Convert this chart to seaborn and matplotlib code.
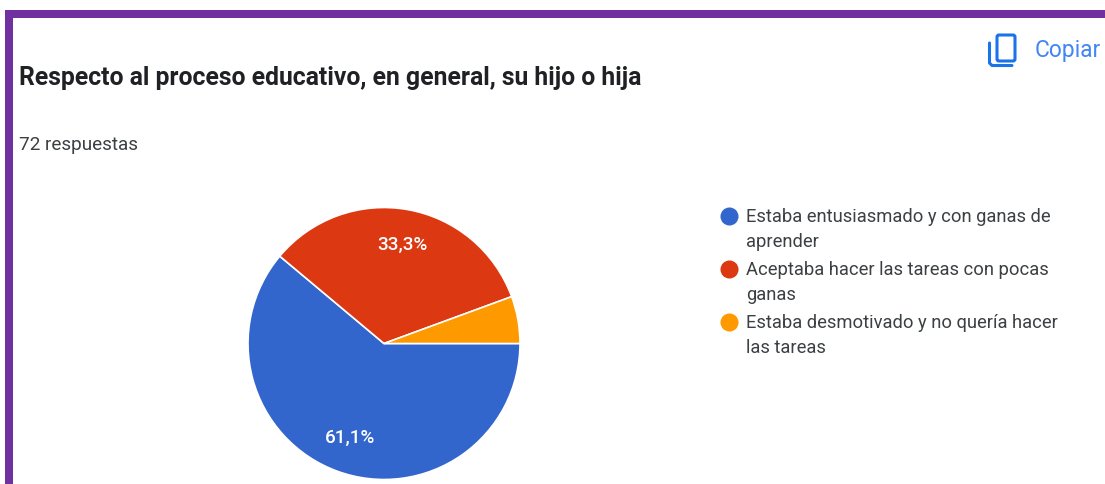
import matplotlib
matplotlib.use("Agg")
import matplotlib.pyplot as plt
from matplotlib.patches import Rectangle, FancyBboxPatch
import seaborn as sns

title = "Respecto al proceso educativo, en general, su hijo o hija"
subtitle = "72 respuestas"
copy_label = "Copiar"
categories = ["Estaba entusiasmado y con ganas de\naprender",
              "Aceptaba hacer las tareas con pocas\nganas",
              "Estaba desmotivado y no quería hacer\nlas tareas"]
values = [61.1, 33.3, 5.6]
pct_labels = ["61,1%", "33,3%", ""]
colors = ["#3366CC", "#DC3912", "#FF9900"]

sns.set_theme(style="white")
plt.rcParams["font.family"] = ["Roboto", "DejaVu Sans"]

W, H = 1105, 484
fig = plt.figure(figsize=(W / 100, H / 100), dpi=100, facecolor="white")

# overlay in pixel coordinates
bg = fig.add_axes([0, 0, 1, 1])
bg.set_xlim(0, W)
bg.set_ylim(H, 0)
bg.axis("off")
purple = "#7030A0"
bg.add_patch(Rectangle((5, 10), W - 5, 8, color=purple, lw=0))
bg.add_patch(Rectangle((5, 10), 8, H - 10, color=purple, lw=0))
bg.text(19, 77.5, title, fontsize=17.85, fontweight="bold", color="#202124", va="center", ha="left")
bg.text(19, 144.5, subtitle, fontsize=13.6, color="#3c4043", va="center", ha="left")
bg.text(1035, 50.5, copy_label, fontsize=16.4, color="#4285F4", va="center", ha="left")
blue = "#1A73E8"
bg.add_patch(FancyBboxPatch((997, 35), 18, 26, boxstyle="round,pad=0,rounding_size=2",
                            fill=False, ec=blue, lw=2.2))
bg.plot([989.5, 989.5, 992, 1012], [43, 63, 65.5, 65.5], color=blue, lw=2.2, solid_capstyle="round")

# pie
cx, cy, r = 384, 343.5, 136
ax = fig.add_axes([(cx - r) / W, 1 - (cy + r) / H, 2 * r / W, 2 * r / H])
wedges, _ = ax.pie(values, colors=colors, startangle=0, counterclock=False, radius=1,
                   wedgeprops=dict(edgecolor="white", linewidth=1.2))
ax.set_xlim(-1, 1)
ax.set_ylim(-1, 1)
for (lx, ly), s in zip([(350, 437.5), (402, 244.5)], pct_labels[:2]):
    bg.text(lx, ly, s, fontsize=13.6, color="white", fontweight="medium", ha="center", va="center", zorder=5)
bg.set_zorder(3)

# legend
ly_list = [229.5, 282.5, 335.5]
for y, lab, c in zip(ly_list, categories, colors):
    bg.plot([729], [y - 13.5], marker="o", ms=13, color=c, mew=0, ls="")
    bg.text(746, y, lab, fontsize=13.2, color="#3c4043", va="center", ha="left", linespacing=1.56)

fig.savefig("out.png", dpi=100)
